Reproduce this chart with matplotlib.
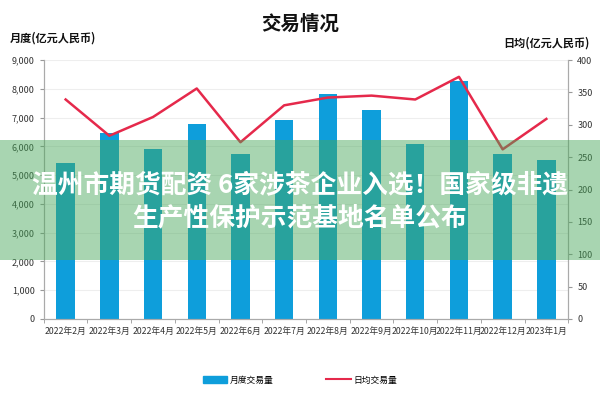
import matplotlib
matplotlib.use("Agg")
import matplotlib.pyplot as plt
from matplotlib.patches import Rectangle
from matplotlib.lines import Line2D
from matplotlib.ticker import FuncFormatter

plt.rcParams['font.family'] = ['Noto Sans CJK SC', 'DejaVu Sans']

# 数据
months = ["2022年2月", "2022年3月", "2022年4月", "2022年5月", "2022年6月", "2022年7月",
          "2022年8月", "2022年9月", "2022年10月", "2022年11月", "2022年12月", "2023年1月"]
monthly = [5430, 6470, 5900, 6760, 5730, 6910, 7820, 7250, 6090, 8260, 5750, 5520]
daily = [339, 283, 312, 356, 273, 330, 342, 345, 339, 374, 262, 309]

bar_color = '#0E9EDB'
line_color = '#E5294B'

fig = plt.figure(figsize=(6, 4), dpi=100)
ax = fig.add_axes([0.073, 0.2025, 0.874, 0.6475])
ax2 = ax.twinx()

x = list(range(len(months)))
ax.bar(x, monthly, width=0.42, color=bar_color, zorder=2)
ax2.plot(x, daily, color=line_color, linewidth=1.8, zorder=3)

ax.set_xlim(-0.5, len(months) - 0.5)
ax.set_ylim(0, 9000)
ax2.set_ylim(0, 400)
ax.set_yticks(range(0, 9001, 1000))
ax2.set_yticks(range(0, 401, 50))
ax.yaxis.set_major_formatter(FuncFormatter(lambda v, p: f"{int(v):,}"))
ax.grid(axis='y', color='#eeeeee', linewidth=0.8, zorder=0)
ax.set_axisbelow(True)

ax.set_xticks(x)
ax.set_xticklabels(months, fontsize=6.3, color='#333333')
ax.set_xticks([i + 0.5 for i in range(-1, len(months))], minor=True)
ax.tick_params(axis='x', which='major', length=0, pad=6)
ax.tick_params(axis='x', which='minor', length=3, color='#999999')
ax.tick_params(axis='y', labelsize=6.5, labelcolor='#333333', length=3, color='#999999')
ax2.tick_params(axis='y', labelsize=6.5, labelcolor='#333333', length=3, color='#999999')

for a in (ax, ax2):
    a.spines['top'].set_visible(False)
    for s in ('left', 'right', 'bottom'):
        a.spines[s].set_color('#aaaaaa')
        a.spines[s].set_linewidth(0.8)

fig.text(0.5, 0.94, "交易情况", ha='center', va='center', fontsize=14, fontweight='bold', color='#111111')
fig.text(0.017, 0.905, "月度(亿元人民币)", ha='left', va='center', fontsize=8, fontweight='bold', color='#111111')
fig.text(0.983, 0.893, "日均(亿元人民币)", ha='right', va='center', fontsize=8, fontweight='bold', color='#111111')

handles = [Rectangle((0, 0), 1, 1, color=bar_color),
           Line2D([0], [0], color=line_color, linewidth=1.5)]
fig.legend(handles, ["月度交易量", "日均交易量"], loc='center', bbox_to_anchor=(0.5, 0.05),
           ncol=2, frameon=False, fontsize=6.3, handlelength=2.8, handleheight=0.7,
           columnspacing=6, handletextpad=0.3)

# 水印横幅
fig.add_artist(Rectangle((0, 0.35), 1, 0.30, transform=fig.transFigure,
                         facecolor=(0.28, 0.655, 0.35), alpha=0.47, edgecolor='none', zorder=10))
fig.text(0.5, 0.537, "温州市期货配资 6家涉茶企业入选！国家级非遗", ha='center', va='center',
         fontsize=18.5, fontweight='bold', color='white', zorder=11)
fig.text(0.5, 0.455, "生产性保护示范基地名单公布", ha='center', va='center',
         fontsize=18.5, fontweight='bold', color='white', zorder=11)

fig.savefig("out.png", dpi=100)
